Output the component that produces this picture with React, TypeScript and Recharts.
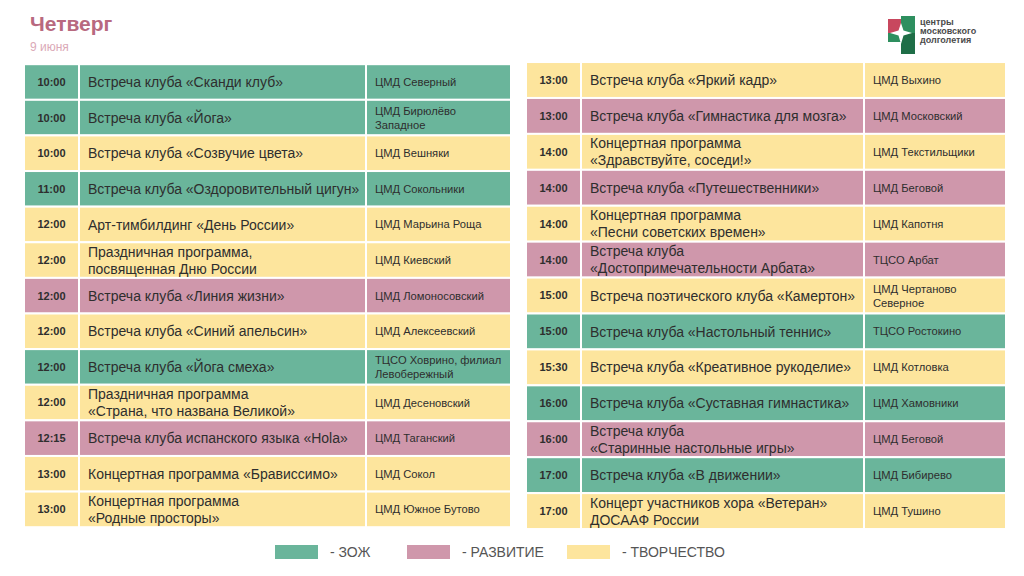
import { BarChart, Bar, XAxis, YAxis, Cell, LabelList } from 'recharts';

// left table
const leftTimes = ['10:00', '10:00', '10:00', '11:00', '12:00', '12:00', '12:00', '12:00', '12:00', '12:00', '12:15', '13:00', '13:00'];
const leftEvents = [
  'Встреча клуба «Сканди клуб»',
  'Встреча клуба «Йога»',
  'Встреча клуба «Созвучие цвета»',
  'Встреча клуба «Оздоровительный цигун»',
  'Арт-тимбилдинг «День России»',
  'Праздничная программа,\nпосвященная Дню России',
  'Встреча клуба «Линия жизни»',
  'Встреча клуба «Синий апельсин»',
  'Встреча клуба «Йога смеха»',
  'Праздничная программа\n«Страна, что названа Великой»',
  'Встреча клуба испанского языка «Hola»',
  'Концертная программа «Брависсимо»',
  'Концертная программа\n«Родные просторы»',
];
const leftPlaces = [
  'ЦМД Северный',
  'ЦМД Бирюлёво\nЗападное',
  'ЦМД Вешняки',
  'ЦМД Сокольники',
  'ЦМД Марьина Роща',
  'ЦМД Киевский',
  'ЦМД Ломоносовский',
  'ЦМД Алексеевский',
  'ТЦСО Ховрино, филиал\nЛевобережный',
  'ЦМД Десеновский',
  'ЦМД Таганский',
  'ЦМД Сокол',
  'ЦМД Южное Бутово',
];
const leftKinds = ['zoj', 'zoj', 'tvor', 'zoj', 'tvor', 'tvor', 'razv', 'tvor', 'zoj', 'tvor', 'razv', 'tvor', 'tvor'];

// right table
const rightTimes = ['13:00', '13:00', '14:00', '14:00', '14:00', '14:00', '15:00', '15:00', '15:30', '16:00', '16:00', '17:00', '17:00'];
const rightEvents = [
  'Встреча клуба «Яркий кадр»',
  'Встреча клуба «Гимнастика для мозга»',
  'Концертная программа\n«Здравствуйте, соседи!»',
  'Встреча клуба «Путешественники»',
  'Концертная программа\n«Песни советских времен»',
  'Встреча клуба\n«Достопримечательности Арбата»',
  'Встреча поэтического клуба «Камертон»',
  'Встреча клуба «Настольный теннис»',
  'Встреча клуба «Креативное рукоделие»',
  'Встреча клуба «Суставная гимнастика»',
  'Встреча клуба\n«Старинные настольные игры»',
  'Встреча клуба «В движении»',
  'Концерт участников хора «Ветеран»\nДОСААФ России',
];
const rightPlaces = [
  'ЦМД Выхино',
  'ЦМД Московский',
  'ЦМД Текстильщики',
  'ЦМД Беговой',
  'ЦМД Капотня',
  'ТЦСО Арбат',
  'ЦМД Чертаново\nСеверное',
  'ТЦСО Ростокино',
  'ЦМД Котловка',
  'ЦМД Хамовники',
  'ЦМД Беговой',
  'ЦМД Бибирево',
  'ЦМД Тушино',
];
const rightKinds = ['tvor', 'razv', 'tvor', 'razv', 'tvor', 'razv', 'tvor', 'zoj', 'tvor', 'zoj', 'razv', 'zoj', 'tvor'];

const legendKinds = ['zoj', 'razv', 'tvor'];
const legendLabels = ['- ЗОЖ', '- РАЗВИТИЕ', '- ТВОРЧЕСТВО'];

const COLORS: Record<string, string> = { zoj: '#6ab59b', razv: '#cf97ab', tvor: '#fde59d' };
const FONT = '"Liberation Sans", Arial, sans-serif';
const TEXT = '#2e2e2e';

function buildRows(times: string[], events: string[], places: string[], kinds: string[]) {
  return times.map((t, i) => ({ id: i, time: t, event: events[i], place: places[i], kind: kinds[i] }));
}

type TextOpts = { center?: boolean; pad: number; size: number; lh: number; bold?: boolean };

const cellText = (o: TextOpts) => (props: any) => {
  const { x, y, width, height, value } = props;
  const lines = String(value ?? '').split('\n');
  const cy = Number(y) + Number(height) / 2;
  const tx = o.center ? Number(x) + Number(width) / 2 : Number(x) + o.pad;
  return (
    <text
      x={tx}
      y={cy}
      textAnchor={o.center ? 'middle' : 'start'}
      fontSize={o.size}
      fontWeight={o.bold ? 700 : 400}
      fontFamily={FONT}
      fill={TEXT}
    >
      {lines.map((l, i) => (
        <tspan key={i} x={tx} y={cy + (i - (lines.length - 1) / 2) * o.lh} dy="0.36em">
          {l}
        </tspan>
      ))}
    </text>
  );
};

// cell rectangle: keeps the bar's x/width and centre, fills the whole row band
const cellShape = (band: number) => (p: any) => (
  <rect
    x={p.x}
    y={p.y + p.height / 2 - band / 2}
    width={p.width}
    height={band}
    fill={p.fill}
    stroke="#ffffff"
    strokeWidth={2}
  />
);

interface TableProps {
  rows: ReturnType<typeof buildRows>;
  width: number;
  height: number;
  cols: [number, number, number];
}

function Schedule({ rows, width, height, cols }: TableProps) {
  const total = cols[0] + cols[1] + cols[2];
  const keys = ['time', 'event', 'place'];
  const band = height / rows.length;
  const opts: TextOpts[] = [
    { center: true, pad: 0, size: 11, lh: 14, bold: true },
    { pad: 9, size: 14, lh: 17 },
    { pad: 9, size: 11.2, lh: 14 },
  ];
  return (
    <BarChart
      width={width}
      height={height}
      data={rows}
      layout="vertical"
      margin={{ top: 0, right: 0, bottom: 0, left: 0 }}
      barCategoryGap="0%"
      barGap={0}
    >
      <XAxis type="number" hide domain={[0, total]} />
      <YAxis type="category" dataKey="id" hide />
      {keys.map((k, ci) => (
        <Bar
          key={k}
          dataKey={() => cols[ci]}
          stackId="row"
          shape={cellShape(band)}
          isAnimationActive={false}
        >
          {rows.map((r) => (
            <Cell key={r.id} fill={COLORS[r.kind]} />
          ))}
          <LabelList dataKey={k} content={cellText(opts[ci])} />
        </Bar>
      ))}
    </BarChart>
  );
}

function Logo() {
  return (
    <svg width={110} height={42} style={{ position: 'absolute', left: 886, top: 15 }}>
      <rect x={2} y={4} width={13} height={14} fill="#c8475e" />
      <rect x={15} y={1} width={14} height={17} fill="#2e8f5f" />
      <rect x={2} y={18} width={13} height={9} fill="#2e8f5f" />
      <rect x={15} y={18} width={14} height={21} fill="#1f6e47" />
      <path d="M15 8 L17.5 15.5 L26 18 L17.5 20.5 L15 29 L12.5 20.5 L4 18 L12.5 15.5 Z" fill="#ffffff" />
      <text x={34} y={10} fontSize={9} fontWeight={700} fontFamily={FONT} fill="#4a4a4a">центры</text>
      <text x={34} y={19} fontSize={9} fontWeight={700} fontFamily={FONT} fill="#4a4a4a">московского</text>
      <text x={34} y={28} fontSize={9} fontWeight={700} fontFamily={FONT} fill="#4a4a4a">долголетия</text>
    </svg>
  );
}

const legendLeft = [275, 407, 567];

export default function App() {
  const leftRows = buildRows(leftTimes, leftEvents, leftPlaces, leftKinds);
  const rightRows = buildRows(rightTimes, rightEvents, rightPlaces, rightKinds);
  return (
    <div
      style={{
        position: 'absolute',
        left: 0,
        top: 0,
        width: 1024,
        height: 576,
        background: '#ffffff',
        fontFamily: FONT,
        overflow: 'hidden',
      }}
    >
      <div style={{ position: 'absolute', left: 30, top: 12, fontSize: 21, fontWeight: 700, color: '#b8697f' }}>
        Четверг
      </div>
      <div style={{ position: 'absolute', left: 30, top: 40, fontSize: 12, color: '#dba9b7' }}>9 июня</div>
      <Logo />
      <div style={{ position: 'absolute', left: 24, top: 64 }}>
        <Schedule rows={leftRows} width={487} height={463} cols={[55, 287, 145]} />
      </div>
      <div style={{ position: 'absolute', left: 526, top: 62 }}>
        <Schedule rows={rightRows} width={480} height={467} cols={[55, 283, 142]} />
      </div>
      {legendKinds.map((k, i) => (
        <div
          key={k}
          style={{ position: 'absolute', left: legendLeft[i], top: 544, display: 'flex', alignItems: 'center' }}
        >
          <div style={{ width: 43, height: 14, background: COLORS[k] }} />
          <span style={{ marginLeft: 12, fontSize: 14, color: '#555555' }}>{legendLabels[i]}</span>
        </div>
      ))}
    </div>
  );
}
